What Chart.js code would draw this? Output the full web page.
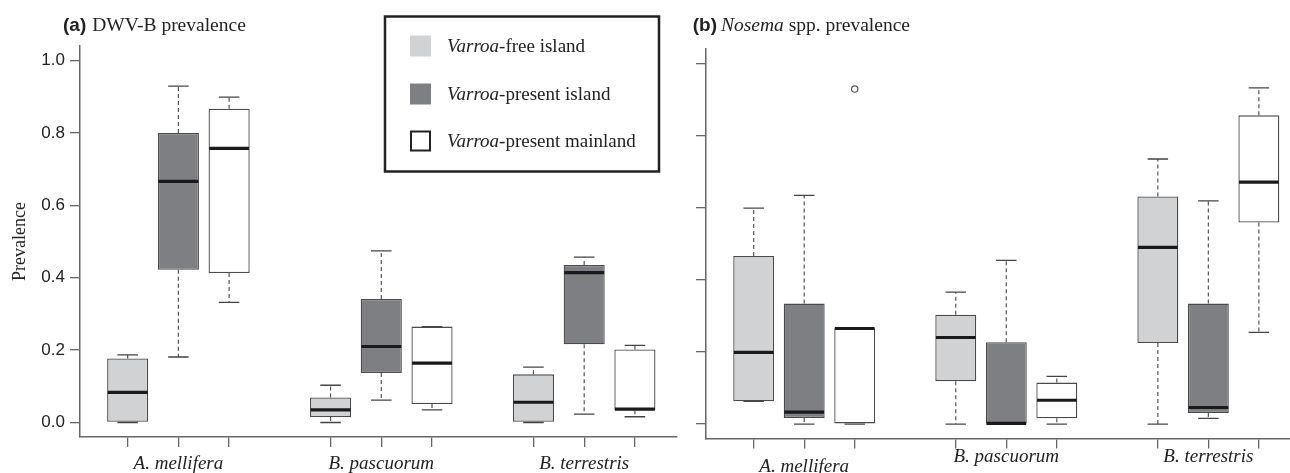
<!DOCTYPE html>
<html>
<head>
<meta charset="utf-8">
<script src="https://cdn.jsdelivr.net/npm/chart.js@4.4.1/dist/chart.umd.min.js"></script>
<style>
  html, body { margin: 0; padding: 0; background: #fff; width: 1290px; height: 473px; overflow: hidden; }
  .panel { position: absolute; top: 0; width: 680px; height: 473px; }
  #wrapA { left: 0; }
  #wrapB { left: 626px; }
</style>
</head>
<body>
<div id="wrapA" class="panel"><canvas id="chartA"></canvas></div>
<div id="wrapB" class="panel"><canvas id="chartB"></canvas></div>
<script>
// categories and groups
const species = ['A. mellifera', 'B. pascuorum', 'B. terrestris'];
const groups = ['Varroa-free island', 'Varroa-present island', 'Varroa-present mainland'];
const groupColors = ['#d1d2d4', '#7e7f82', '#ffffff'];
// x position of each box, per group, per species
const xPositions = [[1, 5, 9], [2, 6, 10], [3, 7, 11]];
const xTicks = [1, 2, 3, 5, 6, 7, 9, 10, 11];
const yTicks = [0, 0.2, 0.4, 0.6, 0.8, 1.0];

// (a) DWV-B prevalence, rows = groups, columns = species
const dwvLow  = [[0, 0, 0], [0.181, 0.062, 0.023], [0.332, 0.035, 0.016]];
const dwvQ1   = [[0, 0.015, 0], [0.422, 0.137, 0.216], [0.413, 0.051, 0.034]];
const dwvMed  = [[0.083, 0.035, 0.056], [0.666, 0.210, 0.414], [0.757, 0.164, 0.037]];
const dwvQ3   = [[0.177, 0.069, 0.133], [0.800, 0.341, 0.435], [0.867, 0.265, 0.202]];
const dwvHigh = [[0.187, 0.103, 0.153], [0.929, 0.474, 0.457], [0.899, 0.265, 0.213]];

// (b) Nosema spp. prevalence
const nosLow  = [[0.063, 0, 0], [0, 0, 0.016], [0, 0, 0.254]];
const nosQ1   = [[0.063, 0.119, 0.225], [0.017, 0, 0.031], [0, 0.016, 0.559]];
const nosMed  = [[0.199, 0.240, 0.490], [0.033, 0.002, 0.046], [0.265, 0.066, 0.671]];
const nosQ3   = [[0.466, 0.303, 0.631], [0.334, 0.227, 0.334], [0.266, 0.115, 0.856]];
const nosHigh = [[0.599, 0.366, 0.735], [0.634, 0.454, 0.619], [0.266, 0.132, 0.932]];
const nosOutliers = [{ x: 3, y: 0.929 }];

const SERIF = '"Liberation Serif", "Times New Roman", serif';
const SANS = '"Liberation Sans", Arial, sans-serif';
const INK = '#222';
const AXIS = '#666';

function drawRuns(ctx, x, y, runs) {
  runs.forEach(r => {
    ctx.font = r.font;
    ctx.fillText(r.text, x, y);
    x += ctx.measureText(r.text).width;
  });
}

function groupRuns(label, size) {
  const i = label.indexOf('-');
  return [
    { text: label.slice(0, i), font: 'italic ' + size + 'px ' + SERIF },
    { text: label.slice(i), font: size + 'px ' + SERIF }
  ];
}

// whiskers, caps and medians on top of the floating bars
const boxExtras = {
  id: 'boxExtras',
  afterDatasetsDraw(chart) {
    const ctx = chart.ctx;
    const y = chart.scales.y;
    chart.data.datasets.forEach((ds, i) => {
      if (!ds.boxMed) return;
      const meta = chart.getDatasetMeta(i);
      meta.data.forEach((bar, j) => {
        const half = bar.width / 2;
        const x = bar.x;
        const q1 = y.getPixelForValue(ds.data[j].y[0]);
        const q3 = y.getPixelForValue(ds.data[j].y[1]);
        const lo = y.getPixelForValue(ds.boxLow[j]);
        const hi = y.getPixelForValue(ds.boxHigh[j]);
        const med = y.getPixelForValue(ds.boxMed[j]);
        ctx.save();
        ctx.strokeStyle = '#555';
        ctx.lineWidth = 1.2;
        ctx.setLineDash([4, 3]);
        ctx.beginPath();
        if (hi < q3 - 1) { ctx.moveTo(x, q3); ctx.lineTo(x, hi); }
        if (lo > q1 + 1) { ctx.moveTo(x, q1); ctx.lineTo(x, lo); }
        ctx.stroke();
        ctx.setLineDash([]);
        ctx.strokeStyle = '#444';
        ctx.lineWidth = 1.3;
        ctx.beginPath();
        ctx.moveTo(x - half / 2, hi); ctx.lineTo(x + half / 2, hi);
        ctx.moveTo(x - half / 2, lo); ctx.lineTo(x + half / 2, lo);
        ctx.stroke();
        ctx.strokeStyle = '#1a1a1a';
        ctx.lineWidth = 3.2;
        ctx.beginPath();
        ctx.moveTo(x - half + 0.6, med); ctx.lineTo(x + half - 0.6, med);
        ctx.stroke();
        ctx.restore();
      });
    });
  }
};

// panel title and species labels
const panelText = {
  id: 'panelText',
  afterDraw(chart, args, opts) {
    const ctx = chart.ctx;
    const xs = chart.scales.x;
    ctx.save();
    ctx.fillStyle = INK;
    ctx.textBaseline = 'alphabetic';
    ctx.textAlign = 'left';
    ctx.font = 'bold 19px ' + SANS;
    ctx.fillText(opts.tag, opts.titleX, 30.5);
    const tagW = ctx.measureText(opts.tag).width;
    drawRuns(ctx, opts.titleX + tagW + opts.tagGap, 30.5, opts.titleRuns);
    ctx.textAlign = 'center';
    ctx.font = 'italic 19px ' + SERIF;
    species.forEach((s, k) => {
      ctx.fillText(s, xs.getPixelForValue(xPositions[1][k]), opts.labelY[k]);
    });
    ctx.restore();
  }
};

// framed legend for panel (a)
const boxLegend = {
  id: 'boxLegend',
  afterDraw(chart, args, opts) {
    if (!opts.show) return;
    const ctx = chart.ctx;
    ctx.save();
    ctx.strokeStyle = '#222';
    ctx.lineWidth = 2.5;
    ctx.strokeRect(385, 16.5, 274, 155);
    const rows = [46, 94, 141];
    groups.forEach((g, k) => {
      const cy = rows[k];
      ctx.fillStyle = groupColors[k];
      ctx.fillRect(410, cy - 10.5, 21, 21);
      if (k === 2) {
        ctx.strokeStyle = '#222';
        ctx.lineWidth = 2;
        ctx.strokeRect(411, cy - 9.5, 19, 19);
      }
      ctx.fillStyle = INK;
      ctx.textBaseline = 'middle';
      ctx.textAlign = 'left';
      drawRuns(ctx, 447, cy + 1, groupRuns(g, 19));
    });
    ctx.restore();
  }
};

function makeDatasets(q1, q3, med, lo, hi) {
  return groups.map((g, k) => ({
    type: 'bar',
    label: g,
    data: species.map((s, j) => ({ x: xPositions[k][j], y: [q1[k][j], q3[k][j]] })),
    boxLow: lo[k],
    boxMed: med[k],
    boxHigh: hi[k],
    backgroundColor: groupColors[k],
    borderColor: '#4a4a4a',
    borderWidth: 1.3,
    borderSkipped: false,
    grouped: false,
    barPercentage: 0.81,
    categoryPercentage: 1.0
  }));
}

function makeChart(id, datasets, cfg) {
  return new Chart(document.getElementById(id), {
    type: 'bar',
    data: { datasets: datasets },
    plugins: [boxExtras, panelText, boxLegend],
    options: {
      responsive: true,
      maintainAspectRatio: false,
      animation: false,
      layout: { padding: { top: cfg.top, right: 3, left: 0, bottom: 0 } },
      plugins: {
        legend: { display: false },
        tooltip: { enabled: false },
        panelText: cfg.text,
        boxLegend: { show: cfg.legend }
      },
      scales: {
        x: {
          type: 'linear',
          min: cfg.xMin,
          max: 11.83,
          offset: false,
          afterBuildTicks: s => { s.ticks = xTicks.map(v => ({ value: v })); },
          afterFit: s => { s.height = 473 - cfg.bottom; },
          ticks: { display: false },
          grid: { offset: false, drawOnChartArea: false, drawTicks: true, tickLength: 10, color: AXIS, lineWidth: 1.3 },
          border: { display: true, color: AXIS, width: 1.5 }
        },
        y: {
          type: 'linear',
          min: -0.04,
          max: 1.04,
          afterBuildTicks: s => { s.ticks = yTicks.map(v => ({ value: v })); },
          afterFit: s => { s.width = 80; },
          ticks: {
            padding: 5,
            color: INK,
            font: { family: SANS, size: 17 },
            callback: v => cfg.yLabels ? v.toFixed(1) : ''
          },
          grid: { drawOnChartArea: false, drawTicks: true, tickLength: 10, color: AXIS, lineWidth: 1.3 },
          border: { display: true, color: AXIS, width: 1.5 },
          title: {
            display: cfg.yLabels,
            text: 'Prevalence',
            color: INK,
            font: { family: SERIF, size: 18 },
            padding: { top: 9, bottom: 0 }
          }
        }
      }
    }
  });
}

makeChart('chartA', makeDatasets(dwvQ1, dwvQ3, dwvMed, dwvLow, dwvHigh), {
  top: 46, bottom: 437, xMin: 0.06, yLabels: true, legend: true,
  text: {
    tag: '(a)', titleX: 63, tagGap: 6,
    titleRuns: [{ text: 'DWV-B prevalence', font: '19.5px ' + SERIF }],
    labelY: [469, 469, 469]
  }
});

const nosemaSets = makeDatasets(nosQ1, nosQ3, nosMed, nosLow, nosHigh);
nosemaSets.push({
  type: 'scatter',
  label: 'outliers',
  data: nosOutliers,
  pointRadius: 3.2,
  pointBorderWidth: 1.2,
  pointBorderColor: '#555',
  pointBackgroundColor: '#fff'
});
makeChart('chartB', nosemaSets, {
  top: 49, bottom: 438.5, xMin: 0.056, yLabels: false, legend: false,
  text: {
    tag: '(b)', titleX: 66.7, tagGap: 4,
    titleRuns: [
      { text: 'Nosema', font: 'italic 19.5px ' + SERIF },
      { text: ' spp. prevalence', font: '19.5px ' + SERIF }
    ],
    labelY: [472, 462, 462]
  }
});
</script>
</body>
</html>
